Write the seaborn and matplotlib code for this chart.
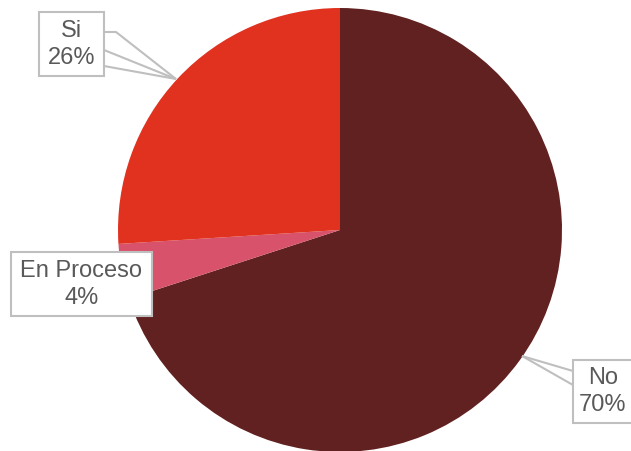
import numpy as np
import seaborn as sns
import matplotlib.pyplot as plt
from matplotlib.patches import Rectangle

sns.set_style("white")
plt.rcParams['font.family'] = ['Liberation Sans', 'DejaVu Sans']

labels = ["No", "En Proceso", "Si"]
values = [70, 4, 26]
colors = ["#622121", "#D9526B", "#E0321F"]

W, H = 631, 451

fig = plt.figure(figsize=(W / 100, H / 100), dpi=100)
ax = fig.add_axes([0, 0, 1, 1])

def py(y):
    # pixel row -> data y
    return H - y

ax.pie(values, colors=colors, startangle=90, counterclock=False,
       center=(340, py(230)), radius=222, frame=True,
       wedgeprops=dict(linewidth=0))
ax.set_xlim(0, W)
ax.set_ylim(0, H)
ax.set_aspect("equal")
ax.axis("off")

grey = "#BFBFBF"
txt = "#595959"

# leader lines
for seg in [[(104, 32), (116, 32), (176, 79)],
            [(104, 50), (176, 79)],
            [(104, 66), (176, 79)],
            [(522, 356), (573, 371)],
            [(522, 356), (573, 385)]]:
    xs = [p[0] for p in seg]
    ys = [py(p[1]) for p in seg]
    ax.plot(xs, ys, color=grey, lw=1.5, solid_capstyle="butt")

# label boxes (x0, y0, x1, y1) in pixel rows
boxes = {"Si": (39, 12, 104, 76),
         "En Proceso": (11, 252, 152, 316),
         "No": (573, 360, 640, 423)}
centers = {"Si": (71.5, 44.5), "En Proceso": (81.5, 284.5), "No": (603, 391.5)}

for lab, v in zip(labels, values):
    x0, y0, x1, y1 = boxes[lab]
    ax.add_patch(Rectangle((x0, py(y1)), x1 - x0, y1 - y0, facecolor="white",
                           edgecolor=grey, lw=1.5, zorder=5, clip_on=False))
    cx, cy = centers[lab]
    ax.text(cx, py(cy), "{}\n{}%".format(lab, v), ha="center", va="center",
            fontsize=17, color=txt, linespacing=1.25, zorder=6)

plt.savefig("out.png", dpi=100)
